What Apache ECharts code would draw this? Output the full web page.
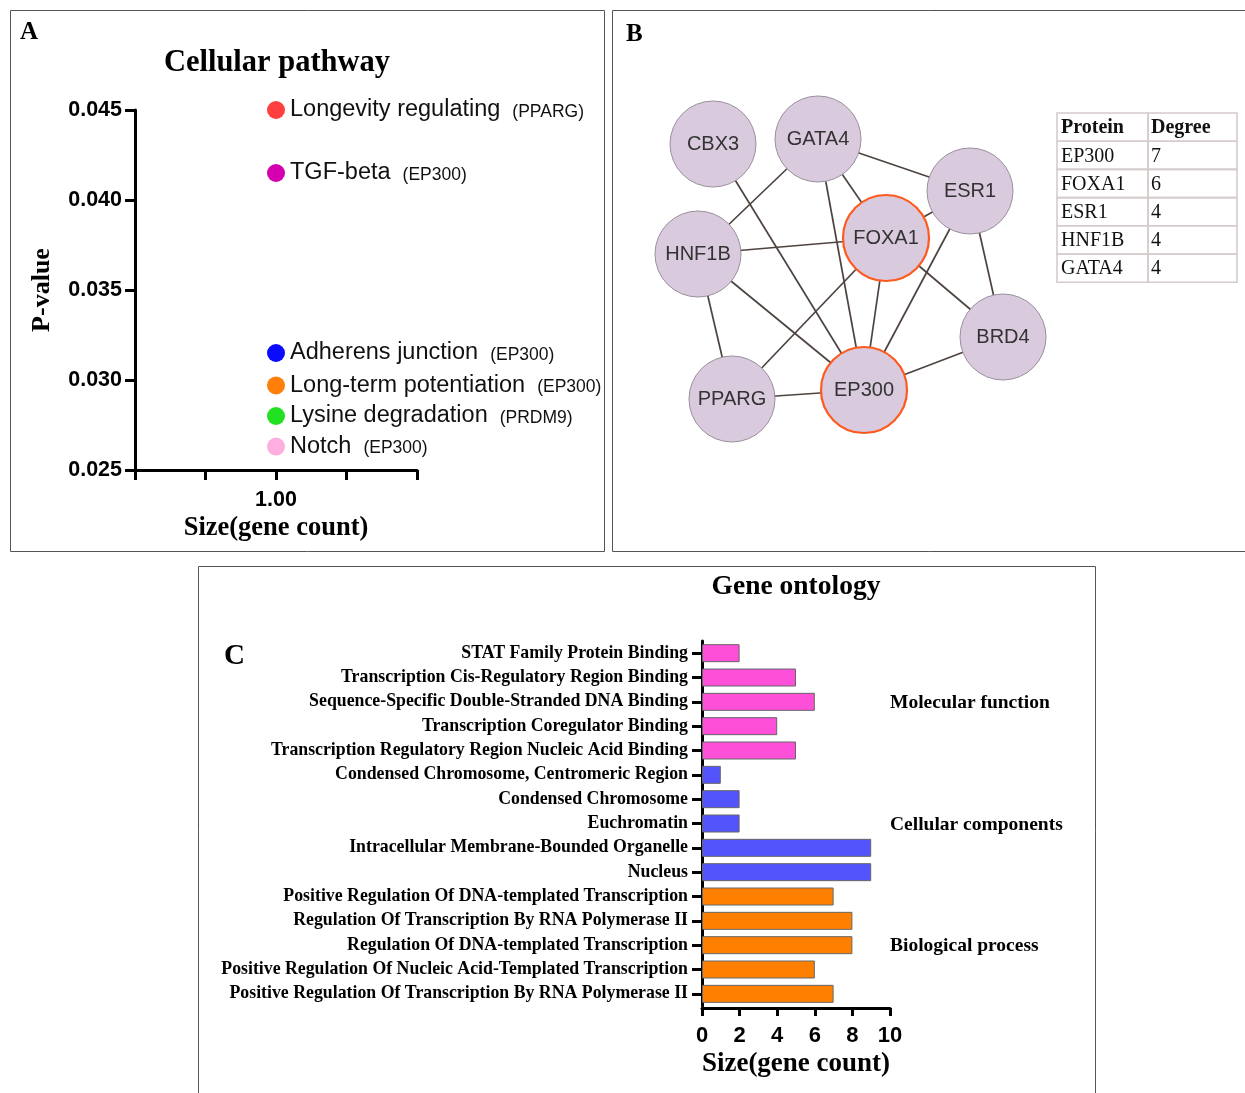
<!DOCTYPE html>
<html><head><meta charset="utf-8">
<script src="https://cdn.jsdelivr.net/npm/echarts@6/dist/echarts.min.js"></script>
<style>html,body{margin:0;padding:0;background:#fff}#c{width:1245px;height:1093px}</style>
</head><body><div id="c"></div>
<script>
// ---------- Panel A data ----------
const pathwayNames = ['Longevity regulating','TGF-beta','Adherens junction','Long-term potentiation','Lysine degradation','Notch'];
const pathwayGenes = ['(PPARG)','(EP300)','(EP300)','(EP300)','(PRDM9)','(EP300)'];
const pathwayPValues = [0.0450,0.0415,0.0315,0.0297,0.0280,0.0263];
const pathwayCounts = [1,1,1,1,1,1];
const pathwayColors = ['#ff4040','#d400b0','#0a0aff','#ff7f0a','#22e022','#ffaee0'];

// ---------- Panel B data ----------
const proteins = ['CBX3','GATA4','ESR1','FOXA1','HNF1B','BRD4','PPARG','EP300'];
const layoutX = [101,206,358,274,86,391,120,252];
const layoutY = [134,129,181,228,244,327,389,380];
const interactions = [
  ['CBX3','EP300'],['GATA4','HNF1B'],['GATA4','ESR1'],['GATA4','FOXA1'],['GATA4','EP300'],
  ['HNF1B','FOXA1'],['HNF1B','EP300'],['HNF1B','PPARG'],['ESR1','FOXA1'],['ESR1','EP300'],
  ['ESR1','BRD4'],['FOXA1','EP300'],['FOXA1','BRD4'],['FOXA1','PPARG'],['PPARG','EP300'],['EP300','BRD4']
];
const hubProteins = ['FOXA1','EP300'];
const tableHeader = ['Protein','Degree'];
const tableProteins = ['EP300','FOXA1','ESR1','HNF1B','GATA4'];
const tableDegrees = [7,6,4,4,4];

// ---------- Panel C data ----------
const goTerms = [
  'STAT Family Protein Binding',
  'Transcription Cis-Regulatory Region Binding',
  'Sequence-Specific Double-Stranded DNA Binding',
  'Transcription Coregulator Binding',
  'Transcription Regulatory Region Nucleic Acid Binding',
  'Condensed Chromosome, Centromeric Region',
  'Condensed Chromosome',
  'Euchromatin',
  'Intracellular Membrane-Bounded Organelle',
  'Nucleus',
  'Positive Regulation Of DNA-templated Transcription',
  'Regulation Of Transcription By RNA Polymerase II',
  'Regulation Of DNA-templated Transcription',
  'Positive Regulation Of Nucleic Acid-Templated Transcription',
  'Positive Regulation Of Transcription By RNA Polymerase II'
];
const goCounts = [2,5,6,4,5,1,2,2,9,9,7,8,8,6,7];
const goGroup = [0,0,0,0,0,1,1,1,1,1,2,2,2,2,2];
const goGroupNames = ['Molecular function','Cellular components','Biological process'];
const goGroupLabelRow = [2,7,12];
const goGroupColors = ['#fe4fd9','#5454fc','#ff8000'];

const SERIF = 'Liberation Serif, Times New Roman, serif';
const SANS = 'Liberation Sans, Arial, sans-serif';

const chart = echarts.init(document.getElementById('c'), null, {renderer:'canvas'});

const scatterData = pathwayNames.map((n,i)=>({
  value:[pathwayCounts[i], pathwayPValues[i]],
  itemStyle:{color:pathwayColors[i], opacity:1},
  label:{formatter:'{n|'+n+'}{g|'+pathwayGenes[i]+'}'}
}));

const nodes = proteins.map((p,i)=>({
  name:p, value:[layoutX[i], layoutY[i]],
  itemStyle: hubProteins.includes(p) ? {borderColor:'#ff5a1e', borderWidth:2.2} : {}
}));
const links = interactions.map(e=>({source:e[0], target:e[1]}));

const barData = goCounts.map((v,i)=>({value:v, itemStyle:{color:goGroupColors[goGroup[i]]}}));

// table graphics
const tableG = [];
const tx0 = 1057, tx1 = 1148, tx2 = 1237, ty0 = 113, rowH = 28.2;
const rows = [tableHeader].concat(tableProteins.map((p,i)=>[p, String(tableDegrees[i])]));
rows.forEach((r,ri)=>{
  const y = ty0 + ri*rowH;
  tableG.push({type:'rect', shape:{x:tx0,y:y,width:tx1-tx0,height:rowH}, style:{fill:'none',stroke:'#d6cccc',lineWidth:1.6}});
  tableG.push({type:'rect', shape:{x:tx1,y:y,width:tx2-tx1,height:rowH}, style:{fill:'none',stroke:'#d6cccc',lineWidth:1.6}});
  const st = {fontFamily:SERIF, fontSize:20, fill:'#111', fontWeight: ri===0?'bold':'normal', verticalAlign:'middle', textAlign:'left'};
  tableG.push({type:'text', x:tx0+4, y:y+rowH/2+1, style:Object.assign({text:r[0]}, st)});
  tableG.push({type:'text', x:tx1+3, y:y+rowH/2+1, style:Object.assign({text:r[1]}, st)});
});

const staticGraphics = [
  {type:'rect', shape:{x:10.5,y:10.5,width:594,height:541}, style:{fill:'none',stroke:'#555',lineWidth:1}},
  {type:'rect', shape:{x:612.5,y:10.5,width:640,height:541}, style:{fill:'none',stroke:'#555',lineWidth:1}},
  {type:'rect', shape:{x:198.5,y:566.5,width:897,height:540}, style:{fill:'none',stroke:'#555',lineWidth:1}},
  {type:'text', x:20, y:33, style:{text:'A', fontFamily:SERIF, fontWeight:'bold', fontSize:25, fill:'#000', verticalAlign:'middle'}},
  {type:'text', x:626, y:35, style:{text:'B', fontFamily:SERIF, fontWeight:'bold', fontSize:25, fill:'#000', verticalAlign:'middle'}},
  {type:'text', x:224, y:657, style:{text:'C', fontFamily:SERIF, fontWeight:'bold', fontSize:29, fill:'#000', verticalAlign:'middle'}},
  {type:'text', x:277, y:63, style:{text:'Cellular pathway', fontFamily:SERIF, fontWeight:'bold', fontSize:30.5, fill:'#000', textAlign:'center', verticalAlign:'middle'}},
  {type:'text', x:796, y:587, style:{text:'Gene ontology', fontFamily:SERIF, fontWeight:'bold', fontSize:27.5, fill:'#000', textAlign:'center', verticalAlign:'middle'}}
].concat(tableG);

const option = {
  animation:false,
  backgroundColor:'#fff',
  grid:[
    {left:135, top:110, width:282, height:360},
    {left:612, top:10, width:633, height:545},
    {left:702, top:641, width:188, height:365}
  ],
  xAxis:[
    {gridIndex:0, type:'value', min:0, max:2, interval:0.5,
     axisLine:{lineStyle:{color:'#000', width:3}},
     axisTick:{length:10, lineStyle:{color:'#000', width:3}},
     splitLine:{show:false},
     axisLabel:{formatter:v=> (Math.abs(v-1)<1e-9?'1.00':''), fontFamily:SANS, fontWeight:'bold', fontSize:21.5, color:'#000', margin:19},
     name:'Size(gene count)', nameLocation:'middle', nameGap:45,
     nameTextStyle:{fontFamily:SERIF, fontWeight:'bold', fontSize:26.5, color:'#000'}},
    {gridIndex:1, type:'value', min:0, max:633, show:false},
    {gridIndex:2, type:'value', min:0, max:10, interval:2, offset:2,
     axisLine:{show:true, lineStyle:{color:'#000', width:3}},
     axisTick:{show:true, length:8, lineStyle:{color:'#000', width:3}},
     splitLine:{show:false},
     axisLabel:{fontFamily:SANS, fontWeight:'bold', fontSize:22, color:'#000', margin:17},
     name:'Size(gene count)', nameLocation:'middle', nameGap:43,
     nameTextStyle:{fontFamily:SERIF, fontWeight:'bold', fontSize:27, color:'#000'}}
  ],
  yAxis:[
    {gridIndex:0, type:'value', min:0.025, max:0.045, interval:0.005,
     axisLine:{show:true, lineStyle:{color:'#000', width:3}},
     axisTick:{show:true, length:10, lineStyle:{color:'#000', width:3}},
     splitLine:{show:false},
     axisLabel:{formatter:v=>v.toFixed(3), fontFamily:SANS, fontWeight:'bold', fontSize:21.5, color:'#000', margin:13},
     name:'P-value', nameLocation:'middle', nameRotate:90, nameGap:80,
     nameTextStyle:{fontFamily:SERIF, fontWeight:'bold', fontSize:26, color:'#000'}},
    {gridIndex:1, type:'value', min:0, max:545, inverse:true, show:false},
    {gridIndex:2, type:'category', data:goTerms, inverse:true,
     axisLine:{show:true, lineStyle:{color:'#000', width:3}},
     axisTick:{show:true, alignWithLabel:true, length:10, lineStyle:{color:'#000', width:3}},
     axisLabel:{fontFamily:SERIF, fontWeight:'bold', fontSize:17.8, color:'#000', margin:14, interval:0}}
  ],
  series:[
    {type:'scatter', xAxisIndex:0, yAxisIndex:0, symbolSize:18, data:scatterData,
     label:{show:true, position:'right', distance:5,
       rich:{
         n:{fontFamily:SANS, fontSize:23.5, color:'#111'},
         g:{fontFamily:SANS, fontSize:17.5, color:'#111', padding:[4,0,0,12]}
       }}},
    {type:'graph', coordinateSystem:'cartesian2d', xAxisIndex:1, yAxisIndex:1, layout:'none',
     symbol:'circle', symbolSize:86, data:nodes, links:links, z:3,
     itemStyle:{color:'#d9cade', borderColor:'#9a8f9c', borderWidth:1},
     lineStyle:{color:'#4d4440', width:1.7, opacity:1, curveness:0},
     label:{show:true, position:'inside', fontFamily:SANS, fontSize:20, color:'#333'},
     emphasis:{disabled:true}},
    {type:'bar', xAxisIndex:2, yAxisIndex:2, data:barData, barWidth:18,
     itemStyle:{borderColor:'#666', borderWidth:1}}
  ],
  graphic: staticGraphics
};
chart.setOption(option);

// group labels placed at the row positions of the category axis
const groupG = goGroupNames.map((g,i)=>{
  const y = chart.convertToPixel({yAxisIndex:2}, goTerms[goGroupLabelRow[i]]);
  return {type:'text', x:890, y:y+1, style:{text:g, fontFamily:SERIF, fontWeight:'bold', fontSize:19.5, fill:'#000', verticalAlign:'middle'}};
});
chart.setOption({graphic: staticGraphics.concat(groupG)}, {replaceMerge:['graphic']});
</script></body></html>
